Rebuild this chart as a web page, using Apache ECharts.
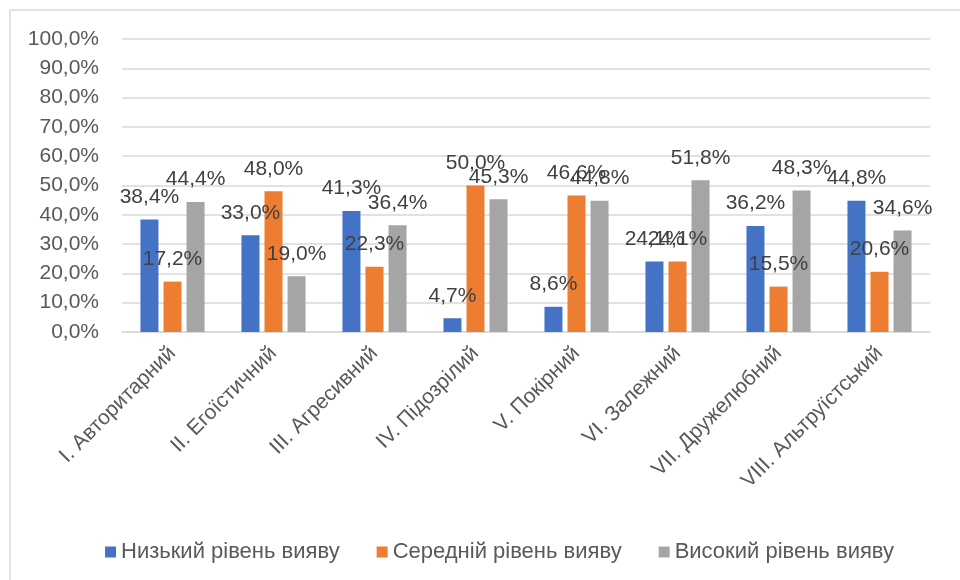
<!DOCTYPE html>
<html>
<head>
<meta charset="utf-8">
<script src="https://cdn.jsdelivr.net/npm/echarts@6/dist/echarts.min.js"></script>
<style>
  html, body { margin: 0; padding: 0; background: #fff; }
  #main { width: 960px; height: 580px; }
</style>
</head>
<body>
<div id="main"></div>
<script>
// категорії
var categories = ['I. Авторитарний', 'II. Егоїстичний', 'III. Агресивний', 'IV. Підозрілий',
    'V. Покірний', 'VI. Залежний', 'VII. Дружелюбний', 'VIII. Альтруїстський'];

// рівні вияву, %
var lowLevel  = [38.4, 33.0, 41.3, 4.7, 8.6, 24.1, 36.2, 44.8];
var midLevel  = [17.2, 48.0, 22.3, 50.0, 46.6, 24.1, 15.5, 20.6];
var highLevel = [44.4, 19.0, 36.4, 45.3, 44.8, 51.8, 48.3, 34.6];

var seriesNames = ['Низький рівень вияву', 'Середній рівень вияву', 'Високий рівень вияву'];

var FONT = '"Liberation Sans", Arial, sans-serif';

function pct(v) {
    return v.toFixed(1).replace('.', ',') + '%';
}

function barSeries(name, data, color) {
    return {
        name: name,
        type: 'bar',
        data: data,
        barWidth: 18,
        barGap: '28%',
        itemStyle: { color: color },
        label: {
            show: true,
            position: 'top',
            distance: 12,
            color: '#404040',
            fontFamily: FONT,
            fontSize: 21,
            formatter: function (p) { return pct(p.value); }
        }
    };
}

var myChart = echarts.init(document.getElementById('main'));

var option = {
    backgroundColor: '#fff',
    animation: false,
    graphic: [{
        type: 'rect',
        shape: { x: 10, y: 10, width: 1000, height: 1000 },
        style: { fill: 'none', stroke: '#D9D9D9', lineWidth: 1.5 },
        silent: true
    }],
    legend: {
        top: 536,
        left: 100,
        itemWidth: 11,
        itemHeight: 11,
        itemGap: 37,
        icon: 'rect',
        textStyle: { color: '#595959', fontFamily: FONT, fontSize: 22 },
        data: seriesNames
    },
    grid: {
        left: 122,
        right: 30,
        top: 39,
        bottom: 248
    },
    xAxis: {
        type: 'category',
        data: categories,
        axisLine: { lineStyle: { color: '#D9D9D9', width: 1.5 } },
        axisTick: { show: false },
        axisLabel: {
            rotate: 45,
            interval: 0,
            margin: 18,
            color: '#595959',
            fontFamily: FONT,
            fontSize: 21
        }
    },
    yAxis: {
        type: 'value',
        min: 0,
        max: 100,
        interval: 10,
        axisLine: { show: false },
        axisTick: { show: false },
        splitLine: { lineStyle: { color: '#D9D9D9', width: 1.5 } },
        axisLabel: {
            margin: 23,
            color: '#595959',
            fontFamily: FONT,
            fontSize: 21,
            formatter: function (v) { return pct(v); }
        }
    },
    series: [
        barSeries(seriesNames[0], lowLevel, '#4472C4'),
        barSeries(seriesNames[1], midLevel, '#ED7D31'),
        barSeries(seriesNames[2], highLevel, '#A5A5A5')
    ]
};

myChart.setOption(option);
</script>
</body>
</html>
